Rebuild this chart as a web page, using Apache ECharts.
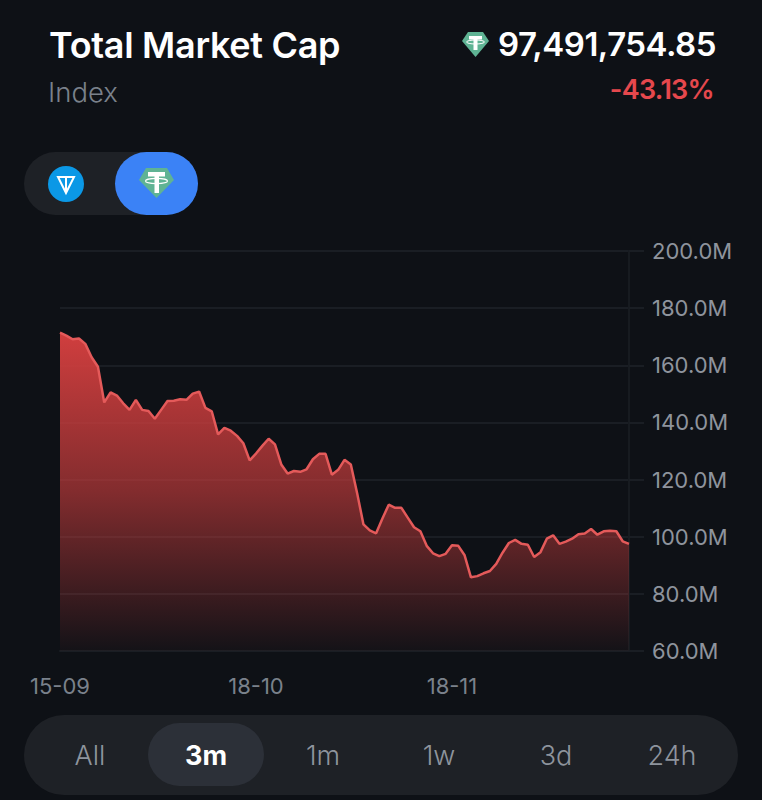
<!DOCTYPE html>
<html>
<head>
<meta charset="utf-8">
<title>Total Market Cap</title>
<script src="https://cdn.jsdelivr.net/npm/echarts@6/dist/echarts.min.js"></script>
<style>
  html, body { margin: 0; padding: 0; background: #0e1116; }
  #page { position: relative; width: 762px; height: 800px; overflow: hidden; background: #0e1116; font-family: Inter, sans-serif; }
  #chart { position: absolute; left: 0; top: 0; width: 762px; height: 800px; }
  .txt { position: absolute; white-space: nowrap; }
  .box { position: absolute; }
  .opt { position: absolute; top: 755px; transform: translate(-50%, -50%); font-size: 27px; font-weight: 300; color: #8e949d; }
</style>
</head>
<body>
<div id="page">
  <div id="chart"></div>

  <div class="txt" style="left:49px;top:23px;font-size:36px;font-weight:600;color:#fff;letter-spacing:-0.3px">Total Market Cap</div>
  <div class="txt" style="left:48px;top:75px;font-size:27.5px;font-weight:300;color:#7a818b">Index</div>
  <div class="txt" style="right:46px;top:24px;font-size:33px;font-weight:600;color:#fff;letter-spacing:-0.5px">97,491,754.85</div>
  <div class="txt" style="right:48px;top:73px;font-size:27px;font-weight:600;color:#e5484d;letter-spacing:-0.7px">-43.13%</div>

  <svg class="box" style="left:461px;top:31px" width="29" height="27" viewBox="0 0 29 27">
    <path d="M7 1H22L28 10L14.5 26L1 10Z" fill="#5fb394"/>
    <path d="M8 5H21V8.5H16.5V19H12.5V8.5H8Z" fill="#fff"/>
    <ellipse cx="14.5" cy="11" rx="9" ry="2" fill="none" stroke="#fff" stroke-width="1"/>
  </svg>

  <div class="box" style="left:24px;top:152px;width:174px;height:63px;border-radius:32px;background:#1e2126"></div>
  <div class="box" style="left:115px;top:152px;width:83px;height:63px;border-radius:32px;background:#3b82f6"></div>
  <svg class="box" style="left:48px;top:166px" width="36" height="36" viewBox="0 0 36 36">
    <circle cx="18" cy="18" r="18" fill="#0b98e6"/>
    <path d="M10 11H26L18 27ZM18 12V26" fill="none" stroke="#fff" stroke-width="2"/>
  </svg>
  <svg class="box" style="left:138px;top:167px" width="37" height="32" viewBox="0 0 37 32">
    <path d="M8 1H29L36 13L18.5 31L1 13Z" fill="#5fb394"/>
    <path d="M10 5H27V9.5H21V26H16.5V9.5H10Z" fill="#fff"/>
    <ellipse cx="18.5" cy="14" rx="11" ry="2.6" fill="none" stroke="#fff" stroke-width="1.1"/>
  </svg>

  <div class="box" style="left:24px;top:715px;width:714px;height:80px;border-radius:40px;background:#1e2126"></div>
  <div class="box" style="left:148px;top:723px;width:116px;height:63px;border-radius:32px;background:#2c3038"></div>
  <div class="opt" style="left:90px">All</div>
  <div class="opt" style="left:206px;color:#fff;font-weight:700">3m</div>
  <div class="opt" style="left:323px">1m</div>
  <div class="opt" style="left:439px">1w</div>
  <div class="opt" style="left:556px">3d</div>
  <div class="opt" style="left:672px">24h</div>
</div>

<script>
// dates as shown on the axis, dd-mm
const dates = [
  '15-09','16-09','17-09','18-09','19-09','20-09','21-09','22-09','23-09','24-09',
  '25-09','26-09','27-09','28-09','29-09','30-09','01-10','02-10','03-10','04-10',
  '05-10','06-10','07-10','08-10','09-10','10-10','12-10','13-10','14-10','16-10',
  '17-10','18-10','19-10','20-10','21-10','22-10','23-10','24-10','25-10','26-10',
  '27-10','28-10','29-10','30-10','31-10','01-11','02-11','03-11','04-11','05-11',
  '06-11','07-11','08-11','09-11','10-11','11-11','12-11','13-11','14-11','15-11',
  '16-11','17-11','18-11','19-11','20-11','21-11','22-11','23-11','24-11','25-11',
  '26-11','27-11','28-11','29-11','30-11','01-12','02-12','03-12','04-12','05-12',
  '06-12','07-12','08-12','09-12','10-12','11-12','12-12','13-12','14-12','15-12',
  '16-12'
];

// market cap in millions
const marketCap = [
  171.4,170.4,169.1,169.4,167.5,162.8,159.5,147.0,150.5,149.4,
  146.7,144.4,147.9,144.4,144.0,141.3,144.4,147.5,147.6,148.1,
  147.9,150.1,150.8,145.1,143.9,135.8,138.1,137.1,135.3,132.7,
  126.7,129.1,131.8,134.3,132.3,125.3,122.1,123.0,122.7,123.6,
  127.1,129.0,129.0,121.7,123.4,126.9,125.3,115.2,104.3,102.2,
  101.2,106.4,111.2,110.1,110.1,106.7,103.3,101.9,96.8,94.2,
  93.2,94.0,97.0,96.8,93.5,85.8,86.2,87.2,88.0,90.5,
  94.4,97.8,98.9,97.5,97.2,92.9,94.6,99.3,100.5,97.5,
  98.3,99.3,100.9,101.1,102.7,100.7,101.9,102.1,101.9,98.4,
  97.5
];

const myChart = echarts.init(document.getElementById('chart'), null, { renderer: 'svg' });

const option = {
  backgroundColor: 'transparent',
  animation: false,
  grid: { left: 60, right: 133, top: 251, bottom: 149 },
  xAxis: {
    type: 'category',
    boundaryGap: false,
    data: dates,
    axisLine: { show: true, lineStyle: { color: '#1a1e24', width: 2 } },
    axisTick: { show: false },
    splitLine: { show: false },
    axisLabel: {
      interval: (index) => index % 31 === 0,
      color: '#7a818b',
      fontFamily: 'Inter',
      fontSize: 22,
      margin: 24
    }
  },
  yAxis: {
    type: 'value',
    position: 'right',
    min: 60,
    max: 200,
    interval: 20,
    axisLine: { show: true, lineStyle: { color: '#171b20', width: 2 } },
    axisTick: { show: true, length: 15, lineStyle: { color: '#1a1e24', width: 2 } },
    splitLine: { show: true, lineStyle: { color: '#1a1e24', width: 2 } },
    axisLabel: {
      color: '#8e949d',
      fontFamily: 'Inter',
      fontSize: 22,
      margin: 23,
      formatter: (v) => v.toFixed(1) + 'M'
    }
  },
  series: [{
    type: 'line',
    data: marketCap,
    symbol: 'none',
    smooth: false,
    lineStyle: { color: '#e45a5a', width: 2.5 },
    areaStyle: {
      origin: 'start',
      opacity: 1,
      color: new echarts.graphic.LinearGradient(0, 0, 0, 1, [
        { offset: 0, color: 'rgba(208,62,62,1)' },
        { offset: 0.5, color: 'rgba(208,62,62,0.6)' },
        { offset: 1, color: 'rgba(208,62,62,0.03)' }
      ])
    }
  }]
};

myChart.setOption(option);
</script>
</body>
</html>
